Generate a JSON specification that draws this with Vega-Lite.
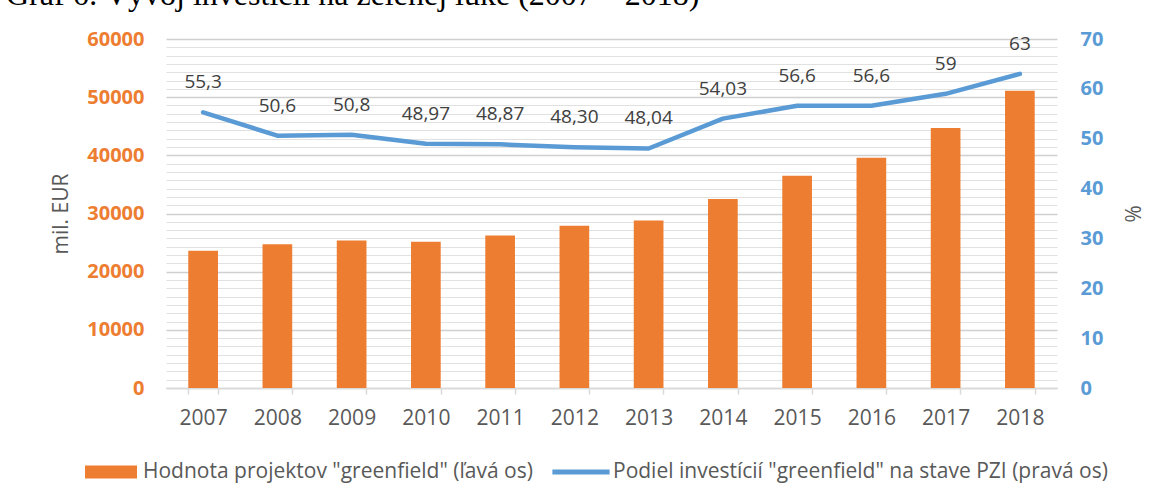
{
  "$schema": "https://vega.github.io/schema/vega-lite/v6.json",
  "width": 891,
  "height": 349,
  "autosize": {"type": "none"},
  "padding": {"left": 166, "top": 39, "right": 108, "bottom": 116},
  "background": "white",
  "config": {
    "view": {"stroke": null},
    "font": "Open Sans"
  },
  "title": {
    "text": "Graf 6: Vývoj investícií na zelenej lúke (2007 – 2018)",
    "anchor": "start",
    "frame": "group",
    "dx": -160,
    "dy": 30,
    "offset": 22,
    "baseline": "alphabetic",
    "font": "Liberation Serif",
    "fontSize": 32,
    "fontWeight": "normal",
    "color": "#000000"
  },
  "data": {
    "values": [
      {"year": "2007", "value": 23600, "pct": 55.3, "label": "55,3"},
      {"year": "2008", "value": 24700, "pct": 50.6, "label": "50,6"},
      {"year": "2009", "value": 25350, "pct": 50.8, "label": "50,8"},
      {"year": "2010", "value": 25150, "pct": 48.97, "label": "48,97"},
      {"year": "2011", "value": 26200, "pct": 48.87, "label": "48,87"},
      {"year": "2012", "value": 27900, "pct": 48.30, "label": "48,30"},
      {"year": "2013", "value": 28800, "pct": 48.04, "label": "48,04"},
      {"year": "2014", "value": 32500, "pct": 54.03, "label": "54,03"},
      {"year": "2015", "value": 36500, "pct": 56.6, "label": "56,6"},
      {"year": "2016", "value": 39600, "pct": 56.6, "label": "56,6"},
      {"year": "2017", "value": 44700, "pct": 59, "label": "59"},
      {"year": "2018", "value": 51100, "pct": 63, "label": "63"}
    ]
  },
  "encoding": {
    "x": {
      "field": "year",
      "type": "ordinal",
      "scale": {"paddingInner": 0.6, "paddingOuter": 0.3},
      "axis": {
        "title": null,
        "labelAngle": 0,
        "labelFont": "Open Sans",
        "labelFontSize": 21,
        "labelColor": "#595959",
        "labelPadding": 13,
        "domainColor": "#d9d9d9",
        "domainWidth": 1.5,
        "tickColor": "#d9d9d9",
        "tickWidth": 1.5,
        "tickSize": 6,
        "tickBand": "extent",
        "grid": false
      }
    }
  },
  "layer": [
    {
      "mark": {"type": "bar", "color": "#ED7D31"},
      "encoding": {
        "y": {
          "field": "value",
          "type": "quantitative",
          "scale": {"domain": [0, 60000], "nice": false},
          "axis": {
            "title": "mil. EUR",
            "titleFont": "Open Sans",
            "titleFontSize": 21,
            "titleFontWeight": "normal",
            "titleColor": "#595959",
            "titlePadding": 15,
            "orient": "left",
            "values": [0, 1428.57, 2857.14, 4285.71, 5714.29, 7142.86, 8571.43, 10000, 11428.57, 12857.14, 14285.71, 15714.29, 17142.86, 18571.43, 20000, 21428.57, 22857.14, 24285.71, 25714.29, 27142.86, 28571.43, 30000, 31428.57, 32857.14, 34285.71, 35714.29, 37142.86, 38571.43, 40000, 41428.57, 42857.14, 44285.71, 45714.29, 47142.86, 48571.43, 50000, 51428.57, 52857.14, 54285.71, 55714.29, 57142.86, 58571.43, 60000],
            "format": "d",
            "labelExpr": "datum.value % 10000 === 0 ? datum.label : ''",
            "labelOverlap": false,
            "labelFont": "Open Sans",
            "labelFontSize": 20,
            "labelFontWeight": "bold",
            "labelColor": "#ED7D31",
            "labelPadding": 22,
            "ticks": false,
            "domain": false,
            "grid": true,
            "gridColor": {"condition": {"test": "datum.value % 10000 === 0", "value": "#d0d0d0"}, "value": "#e1e1e1"},
            "gridWidth": {"condition": {"test": "datum.value % 10000 === 0", "value": 1.5}, "value": 1.2}
          }
        },
        "color": {
          "datum": "Hodnota projektov \"greenfield\" (ľavá os)",
          "type": "nominal",
          "scale": {
            "domain": ["Hodnota projektov \"greenfield\" (ľavá os)", "Podiel investícií \"greenfield\" na stave PZI (pravá os)"],
            "range": ["#ED7D31", "#5B9BD5"]
          },
          "legend": {
            "title": null,
            "orient": "none",
            "legendX": -81,
            "legendY": 407,
            "direction": "horizontal",
            "labelFont": "Open Sans",
            "labelFontSize": 21,
            "labelColor": "#595959",
            "labelLimit": 700,
            "labelOffset": 6,
            "columnPadding": 19,
            "symbolSize": 2704,
            "symbolStrokeWidth": 0,
            "encode": {
              "symbols": {
                "update": {
                  "shape": {"signal": "indexof(datum.value, 'Hodnota') === 0 ? 'M-1,-0.25H1V0.25H-1Z' : 'M-1.1,-0.1H1.1V0.1H-1.1Z'"},
                  "fill": {"signal": "indexof(datum.value, 'Hodnota') === 0 ? '#ED7D31' : '#5B9BD5'"},
                  "stroke": {"value": "transparent"},
                  "opacity": {"value": 1},
                  "fillOpacity": {"value": 1}
                }
              }
            }
          }
        }
      }
    },
    {
      "mark": {"type": "line", "strokeWidth": 4.5, "strokeCap": "round", "strokeJoin": "round", "color": "#5B9BD5"},
      "encoding": {
        "y": {
          "field": "pct",
          "type": "quantitative",
          "scale": {"domain": [0, 70], "nice": false},
          "axis": {
            "title": "%",
            "titleFont": "Open Sans",
            "titleFontSize": 21,
            "titleFontWeight": "normal",
            "titleColor": "#595959",
            "titlePadding": 18,
            "titleAngle": 90,
            "orient": "right",
            "values": [0, 10, 20, 30, 40, 50, 60, 70],
            "labelFont": "Open Sans",
            "labelFontSize": 20,
            "labelFontWeight": "bold",
            "labelColor": "#5B9BD5",
            "labelPadding": 23,
            "ticks": false,
            "domain": false,
            "grid": false
          }
        },
        "color": {"datum": "Podiel investícií \"greenfield\" na stave PZI (pravá os)", "type": "nominal"}
      }
    },
    {
      "mark": {"type": "text", "dy": -30, "font": "Open Sans", "fontSize": 19, "color": "#404040"},
      "encoding": {
        "y": {"field": "pct", "type": "quantitative", "scale": {"domain": [0, 70], "nice": false}, "axis": null},
        "text": {"field": "label"}
      }
    }
  ],
  "resolve": {"scale": {"y": "independent"}}
}
